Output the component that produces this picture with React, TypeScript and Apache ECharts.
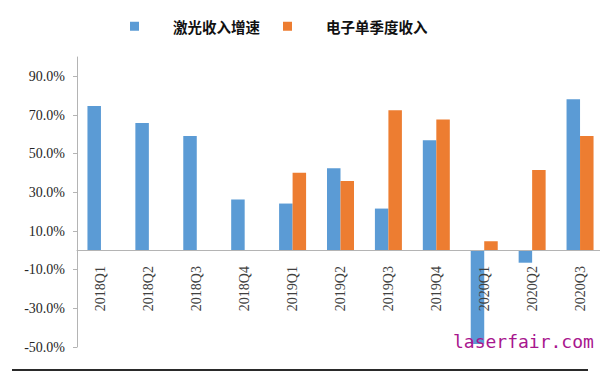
import React, { useEffect, useRef } from "react";
import * as echarts from "echarts";

const categories = ["2018Q1", "2018Q2", "2018Q3", "2018Q4", "2019Q1", "2019Q2", "2019Q3", "2019Q4", "2020Q1", "2020Q2", "2020Q3"];
const laserGrowth = [74.6, 65.8, 59.1, 26.3, 24.2, 42.5, 21.6, 57.0, -48.5, -6.4, 78.2];
const electronRevenue = ["-", "-", "-", "-", 40.1, 35.9, 72.5, 67.7, 4.7, 41.5, 59.2];
const yTicks = [-50, -30, -10, 10, 30, 50, 70, 90];
const seriesNames = ["激光收入增速", "电子单季度收入"];

export default function App() {
  const ref = useRef<HTMLDivElement>(null);
  useEffect(() => {
    if (!ref.current) return;
    const chart = echarts.init(ref.current, null, { renderer: "svg" });
    chart.setOption({
      animation: false,
      backgroundColor: "#ffffff",
      legend: {
        left: 130,
        top: 19,
        padding: 0,
        icon: "rect",
        itemWidth: 9,
        itemHeight: 9,
        itemGap: 23,
        data: seriesNames,
        textStyle: {
          fontFamily: "Noto Sans CJK SC",
          fontWeight: "bold",
          fontSize: 14.5,
          color: "#111111",
          padding: [0, 0, 0, 29],
        },
      },
      grid: { left: 77, width: 527, top: 57, bottom: 28, outerBoundsMode: "none", containLabel: false },
      xAxis: {
        type: "category",
        data: categories,
        z: 10,
        position: "bottom",
        offset: -97,
        axisLine: { onZero: false, lineStyle: { color: "#b4b4b4", width: 1 } },
        axisTick: { show: false },
        axisLabel: {
          rotate: 90,
          margin: 16,
          fontFamily: "Liberation Serif",
          fontSize: 14,
          color: "#404040",
          interval: 0,
        },
      },
      yAxis: {
        type: "value",
        min: -50,
        max: 100,
        splitLine: { show: false },
        axisLine: { show: true, lineStyle: { color: "#b4b4b4" } },
        axisTick: { show: true, length: 4, customValues: yTicks, lineStyle: { color: "#b4b4b4" } },
        axisLabel: {
          customValues: yTicks,
          margin: 12,
          fontFamily: "Liberation Serif",
          fontSize: 14,
          color: "#262626",
          formatter: (v: number) => v.toFixed(1) + "%",
        },
      },
      series: [
        {
          name: seriesNames[0],
          type: "bar",
          data: laserGrowth,
          barWidth: 13.5,
          barGap: "0%",
          itemStyle: { color: "#5b9bd5" },
        },
        {
          name: seriesNames[1],
          type: "bar",
          data: electronRevenue,
          barWidth: 13.5,
          barGap: "0%",
          itemStyle: { color: "#ed7d31" },
        },
      ],
      graphic: [
        {
          type: "line",
          shape: { x1: 12, y1: 370, x2: 588, y2: 370 },
          style: { stroke: "#2a2a2a", lineWidth: 2 },
        },
        {
          type: "text",
          left: 453,
          top: 332,
          z: 100,
          style: {
            text: "laserfair.com",
            fontFamily: "DejaVu Sans Mono",
            fontSize: 18,
            fill: "#a8168e",
          },
        },
      ],
    });
    return () => chart.dispose();
  }, []);
  return <div ref={ref} style={{ width: 600, height: 375, position: "absolute", left: 0, top: 0 }} />;
}
